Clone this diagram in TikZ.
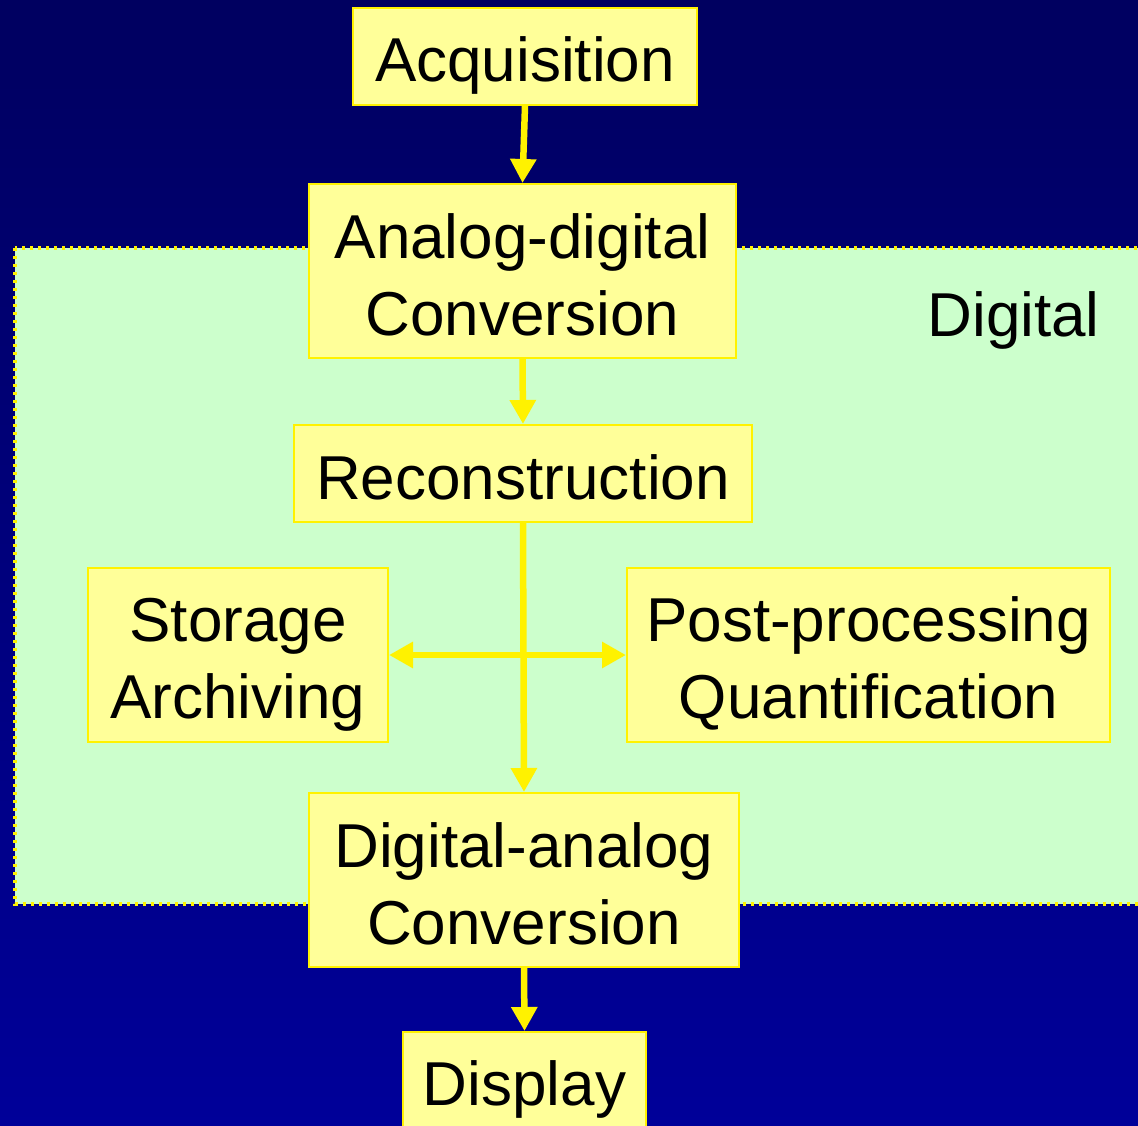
\documentclass[tikz,border=0pt]{standalone}
\usepackage{fontspec}
\setmainfont{Liberation Sans}
\usetikzlibrary{arrows.meta}
\definecolor{boxfill}{HTML}{FFFF99}
\definecolor{digi}{HTML}{CCFFCC}
\definecolor{bgtop}{HTML}{000060}
\definecolor{bgbot}{HTML}{000099}
\newcommand\boxstrut{\rule[-11pt]{0pt}{73pt}}
\begin{document}
\begin{tikzpicture}[x=1pt,y=-1pt,
  box/.style={draw=yellow, line width=2pt, fill=boxfill, inner sep=0pt, align=center,
    font=\fontsize{62}{77}\selectfont},
  flow/.style={draw=yellow, line width=6.5pt, -{Triangle[length=24pt,width=25pt]}},
  flow2/.style={draw=yellow, line width=6.5pt, {Triangle[length=24pt,width=25pt]}-{Triangle[length=24pt,width=25pt]}}]
\useasboundingbox (0,0) rectangle (1138,1126);
\clip (0,0) rectangle (1138,1126);
\shade[top color=bgtop, bottom color=bgbot] (0,0) rectangle (1138,1126);
\path[fill=digi, draw=yellow, line width=3.2pt, dash pattern=on 3pt off 5pt] (15,248) rectangle (1160,904);
\node[anchor=base east, font=\fontsize{62}{77}\selectfont, inner sep=0pt] (lab) at (1100,336) {Digital};
\node[box, minimum width=344pt, minimum height=97pt] (acq) at (525,56.5) {\boxstrut Acquisition};
\node[box, minimum width=427pt, minimum height=174pt] (ad) at (522.5,271) {\boxstrut Analog-digital\\\boxstrut Conversion};
\node[box, minimum width=458pt, minimum height=97pt] (rec) at (523,473.5) {\boxstrut Reconstruction};
\node[box, minimum width=300pt, minimum height=174pt] (sto) at (238,655) {\boxstrut Storage\\\boxstrut Archiving};
\node[box, minimum width=483pt, minimum height=174pt] (post) at (868.5,655) {\boxstrut Post-processing\\\boxstrut Quantification};
\node[box, minimum width=430pt, minimum height=174pt] (da) at (524,880) {\boxstrut Digital-analog\\\boxstrut Conversion};
\node[box, minimum width=243pt, minimum height=97pt] (disp) at (524.5,1080.5) {\boxstrut Display};
\draw[flow] (acq.south) -- (ad.north);
\draw[flow] (ad.south) -- (rec.north);
\draw[flow] (rec.south) -- (da.north);
\draw[flow2] (sto.east) -- (post.west);
\draw[flow] (da.south) -- (disp.north);
\end{tikzpicture}
\end{document}
